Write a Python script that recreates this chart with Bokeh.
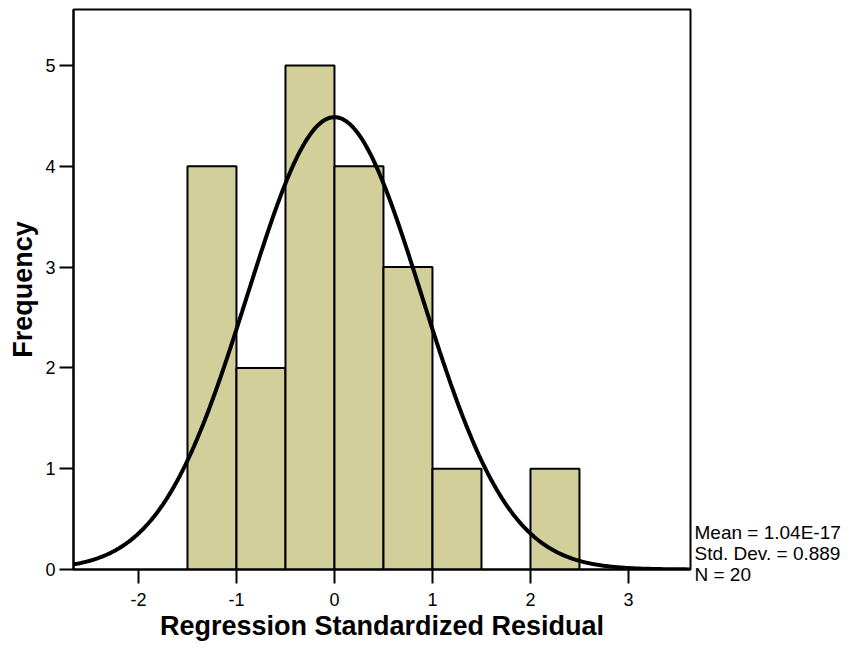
import numpy as np
from bokeh.plotting import figure
from bokeh.layouts import row
from bokeh.models import Range1d, FixedTicker
from bokeh.core.properties import value
from bokeh.embed import file_html
from bokeh.resources import INLINE

# Data
bin_left = [-1.5, -1.0, -0.5, 0.0, 0.5, 1.0, 2.0]
bin_right = [-1.0, -0.5, 0.0, 0.5, 1.0, 1.5, 2.5]
counts = [4, 2, 5, 4, 3, 1, 1]
MEAN = 1.04e-17
SD = 0.889
N = 20
BIN_WIDTH = 0.5
x_ticks = [-2, -1, 0, 1, 2, 3]
x_tick_labels = ["-2", "-1", "0", "1", "2", "3"]
y_ticks = [0, 1, 2, 3, 4, 5]
y_tick_labels = ["0", "1", "2", "3", "4", "5"]
stats = ["Mean = 1.04E-17", "Std. Dev. = 0.889", "N = 20"]

FONT = "Liberation Sans"
H = 644

p = figure(width=692, height=H, output_backend="svg", toolbar_location=None,
           x_range=Range1d(-2.663, 3.633), y_range=Range1d(0, 5.556),
           min_border_left=73, min_border_right=2, min_border_top=9, min_border_bottom=75)
p.frame_align = False

p.quad(left=bin_left, right=bin_right, bottom=0, top=counts,
       fill_color="#D3CF9B", line_color="black", line_width=2)

xs = np.linspace(-2.663, 3.633, 400)
ys = N * BIN_WIDTH * np.exp(-0.5 * ((xs - MEAN) / SD) ** 2) / (SD * np.sqrt(2 * np.pi))
p.line(xs, ys, line_color="black", line_width=4)

p.xgrid.visible = False
p.ygrid.visible = False
p.outline_line_color = "black"
p.outline_line_width = 2
p.outline_line_alpha = 1

for ax in (p.xaxis[0], p.yaxis[0]):
    ax.axis_line_color = "black"
    ax.axis_line_width = 2
    ax.major_tick_line_color = "black"
    ax.major_tick_line_width = 2
    ax.major_tick_in = 0
    ax.major_tick_out = 14
    ax.minor_tick_line_color = None
    ax.major_label_text_font = FONT
    ax.major_label_text_font_size = "18px"
    ax.major_label_text_color = "black"
    ax.axis_label_text_font = FONT
    ax.axis_label_text_font_size = "27px"
    ax.axis_label_text_font_style = "bold"
    ax.axis_label_text_color = "black"

p.xaxis.ticker = FixedTicker(ticks=x_ticks)
p.yaxis.ticker = FixedTicker(ticks=y_ticks)
p.xaxis.major_label_overrides = {t: l for t, l in zip(x_ticks, x_tick_labels)}
p.yaxis.major_label_overrides = {t: l for t, l in zip(y_ticks, y_tick_labels)}
p.xaxis.major_label_standoff = 9
p.yaxis.major_label_standoff = 4
p.xaxis.axis_label = "Regression Standardized Residual"
p.yaxis.axis_label = "Frequency"
p.xaxis.axis_label_standoff = 2
p.yaxis.axis_label_standoff = 4

# Side panel with the summary statistics (pixel-unit ranges)
s = figure(width=154, height=H, output_backend="svg", toolbar_location=None,
           x_range=Range1d(0, 154), y_range=Range1d(0, H),
           x_axis_location=None, y_axis_location=None,
           min_border_left=0, min_border_right=0, min_border_top=0, min_border_bottom=0)
s.frame_align = False
s.grid.visible = False
s.outline_line_color = None
stat_x = [2, 2, 2]
stat_y = [H - 532, H - 553, H - 574]
s.text(x=stat_x, y=stat_y, text=stats, text_font=value(FONT), text_font_size="19px",
       text_baseline="middle", text_align="left", text_color="black")

layout = row(p, s, spacing=0)
open("out.html", "w").write(file_html(layout, INLINE))
